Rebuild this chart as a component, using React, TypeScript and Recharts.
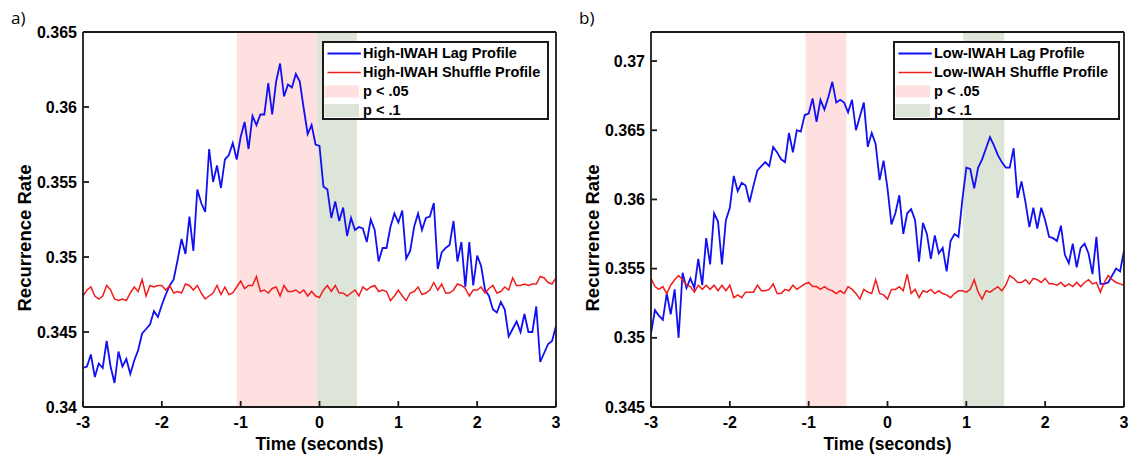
import React from 'react';
import { LineChart, Line, XAxis, YAxis, ReferenceArea, Legend } from 'recharts';

const FONT = '"Liberation Sans", Arial, Helvetica, sans-serif';

// sample grid (seconds)
const TIME_START = -3;
const TIME_STEP = 0.05;
const TIME = Array.from({ length: 121 }, (_, i) => Math.round((TIME_START + i * TIME_STEP) * 100) / 100);

// Panel a) High-IWAH
const HIGH_LAG = [
  0.3426, 0.3427, 0.3435, 0.342, 0.3429, 0.3426, 0.3444, 0.3427, 0.3416, 0.3437,
  0.3427, 0.3432, 0.3422, 0.3431, 0.3438, 0.3449, 0.3452, 0.3455, 0.3464, 0.346,
  0.3468, 0.3475, 0.3481, 0.3485, 0.3498, 0.3512, 0.3502, 0.3527, 0.3504, 0.3545,
  0.3536, 0.353, 0.3572, 0.355, 0.3561, 0.3546, 0.3565, 0.3568, 0.3576, 0.3565,
  0.358, 0.359, 0.3572, 0.3594, 0.3588, 0.3595, 0.3595, 0.3616, 0.3595, 0.3617,
  0.3629, 0.3607, 0.3615, 0.3613, 0.3622, 0.3617, 0.3599, 0.3582, 0.3588, 0.3575,
  0.3574, 0.3547, 0.3545, 0.3526, 0.3537, 0.3524, 0.3533, 0.3514, 0.3526, 0.3518,
  0.352, 0.3519, 0.351, 0.3525, 0.3518, 0.3497, 0.3506, 0.3506, 0.352, 0.3529,
  0.3523, 0.3531, 0.3499, 0.3504, 0.352, 0.3529, 0.3518, 0.3526, 0.3527, 0.3536,
  0.3492, 0.3503, 0.3506, 0.3508, 0.3524, 0.3497, 0.351, 0.348, 0.351, 0.3481,
  0.3501, 0.3494, 0.3478, 0.3474, 0.3465, 0.3463, 0.347, 0.3465, 0.3447, 0.3452,
  0.3457, 0.345, 0.3462, 0.345, 0.345, 0.3467, 0.343, 0.3436, 0.3442, 0.3444,
  0.3454,
];
const HIGH_SHUFFLE = [
  0.3474, 0.3478, 0.348, 0.3474, 0.3472, 0.3474, 0.3481, 0.3478, 0.3472, 0.3471,
  0.3472, 0.3471, 0.3476, 0.348, 0.3477, 0.3485, 0.3474, 0.3481, 0.348, 0.3481,
  0.3481, 0.3478, 0.3481, 0.3476, 0.3477, 0.3476, 0.3482, 0.3481, 0.3478, 0.3481,
  0.3476, 0.3472, 0.3474, 0.3476, 0.3481, 0.3475, 0.348, 0.3475, 0.3476, 0.348,
  0.3484, 0.3479, 0.3481, 0.3481, 0.3487, 0.3477, 0.3478, 0.3476, 0.3479, 0.348,
  0.3474, 0.3481, 0.3477, 0.3477, 0.3478, 0.3476, 0.3478, 0.3474, 0.3477, 0.3474,
  0.3473, 0.3478, 0.3481, 0.3477, 0.3481, 0.3476, 0.3476, 0.3474, 0.3476, 0.3478,
  0.3474, 0.348, 0.3478, 0.348, 0.3481, 0.3477, 0.3478, 0.3477, 0.3471, 0.3474,
  0.3478, 0.3474, 0.3471, 0.3476, 0.3477, 0.348, 0.3475, 0.3476, 0.3478, 0.3483,
  0.3478, 0.3482, 0.3476, 0.3476, 0.3478, 0.3482, 0.3481, 0.3479, 0.3474, 0.3478,
  0.3478, 0.348, 0.3476, 0.3479, 0.3481, 0.3476, 0.3477, 0.348, 0.3478, 0.3486,
  0.3481, 0.3481, 0.3482, 0.3481, 0.3482, 0.3482, 0.3487, 0.3486, 0.3483, 0.3482,
  0.3486,
];

// Panel b) Low-IWAH
const LOW_LAG = [
  0.3503, 0.352, 0.3516, 0.3513, 0.3532, 0.3517, 0.3535, 0.35, 0.3547, 0.3536,
  0.3543, 0.3536, 0.3557, 0.3538, 0.3572, 0.3553, 0.359, 0.3584, 0.3553, 0.3585,
  0.3594, 0.3617, 0.3606, 0.3612, 0.361, 0.3598, 0.361, 0.3621, 0.3624, 0.3627,
  0.3624, 0.3638, 0.3634, 0.3629, 0.3627, 0.3648, 0.3634, 0.365, 0.3649, 0.3661,
  0.3662, 0.3673, 0.3656, 0.3672, 0.3665, 0.3674, 0.3685, 0.367, 0.3672, 0.367,
  0.3663, 0.3672, 0.365, 0.366, 0.367, 0.3638, 0.3648, 0.364, 0.3614, 0.3628,
  0.3608, 0.3582, 0.359, 0.3603, 0.3575, 0.359, 0.3593, 0.3585, 0.3555, 0.3583,
  0.3575, 0.3557, 0.3574, 0.3561, 0.3565, 0.3548, 0.357, 0.3575, 0.3573, 0.36,
  0.3623, 0.3622, 0.3608, 0.3623, 0.3629, 0.3637, 0.3645, 0.3639, 0.3632, 0.3627,
  0.3623, 0.3623, 0.3637, 0.3601, 0.3613, 0.3598, 0.358, 0.3594, 0.3579, 0.3594,
  0.3585, 0.3573, 0.3572, 0.357, 0.3581, 0.356, 0.3554, 0.3568, 0.3551, 0.3565,
  0.3568, 0.3561, 0.3546, 0.3573, 0.3539, 0.3539, 0.354, 0.3545, 0.355, 0.3548,
  0.3563,
];
const LOW_SHUFFLE = [
  0.3543, 0.3537, 0.3535, 0.3537, 0.3532, 0.3538, 0.3542, 0.3545, 0.3542, 0.3538,
  0.3537, 0.3533, 0.3538, 0.3535, 0.3538, 0.3535, 0.3538, 0.3534, 0.3538, 0.3534,
  0.3538, 0.3529, 0.3531, 0.3529, 0.3533, 0.3533, 0.3533, 0.3538, 0.3534, 0.3534,
  0.3535, 0.3539, 0.3532, 0.3532, 0.3535, 0.3534, 0.3538, 0.3535, 0.3537, 0.3539,
  0.354, 0.3537, 0.3537, 0.3535, 0.3537, 0.3535, 0.3534, 0.3532, 0.3534, 0.3532,
  0.3537, 0.3535, 0.3532, 0.3528, 0.3535, 0.3533, 0.3532, 0.3542, 0.3532, 0.3531,
  0.3528, 0.3535, 0.3535, 0.3537, 0.3534, 0.3546, 0.3532, 0.3535, 0.3529, 0.3534,
  0.3533, 0.3535, 0.3532, 0.3534, 0.3532, 0.3531, 0.3529, 0.3532, 0.3534, 0.3534,
  0.3533, 0.3535, 0.3542, 0.3533, 0.3528, 0.3534, 0.3533, 0.3535, 0.3537, 0.3534,
  0.3538, 0.3545, 0.3543, 0.354, 0.354, 0.3542, 0.3539, 0.3543, 0.3542, 0.354,
  0.3543, 0.3539, 0.3539, 0.3538, 0.354, 0.3537, 0.3539, 0.3537, 0.354, 0.3537,
  0.354, 0.3542, 0.3539, 0.354, 0.3533, 0.354, 0.3545, 0.3542, 0.354, 0.3539,
  0.3538,
];

const X_TICKS = [-3, -2, -1, 0, 1, 2, 3];
const X_DOMAIN = [-3, 3];
const Y_TICKS_A = [0.34, 0.345, 0.35, 0.355, 0.36, 0.365];
const Y_DOMAIN_A = [0.34, 0.365];
const Y_TICKS_B = [0.345, 0.35, 0.355, 0.36, 0.365, 0.37];
const Y_DOMAIN_B = [0.345, 0.3721];

// significance windows (seconds)
const SIG05_A = [-1.05, -0.03];
const SIG10_A = [-0.03, 0.475];
const SIG05_B = [-1.04, -0.52];
const SIG10_B = [0.96, 1.48];

const LEGEND_LABELS_A = ['High-IWAH Lag Profile', 'High-IWAH Shuffle Profile', 'p < .05', 'p < .1'];
const LEGEND_LABELS_B = ['Low-IWAH Lag Profile', 'Low-IWAH Shuffle Profile', 'p < .05', 'p < .1'];

const BLUE = '#1010f2';
const RED = '#f21c1c';
const PINK = '#fde0df';
const GREEN = '#dde5d8';
const AXIS = '#1a1a1a';

const fmt = (v: number) => String(parseFloat(v.toFixed(4)));

function LegendBox({ labels }: { labels: string[] }) {
  const swatches = [
    <line key="a" x1={3.5} x2={36.8} y1={9.5} y2={9.5} stroke={BLUE} strokeWidth={1.8} />,
    <line key="b" x1={3.5} x2={36.8} y1={9.5} y2={9.5} stroke={RED} strokeWidth={1.5} />,
    <rect key="c" x={0.5} y={3.5} width={34.5} height={12} fill={PINK} />,
    <rect key="d" x={0.5} y={3} width={34.5} height={13} fill={GREEN} />,
  ];
  return (
    <div
      style={{
        boxSizing: 'border-box',
        width: 227,
        height: 79,
        border: `2px solid ${AXIS}`,
        background: '#fff',
        paddingTop: 1,
        fontFamily: FONT,
      }}
    >
      {labels.map((lab, i) => (
        <div key={lab} style={{ display: 'flex', alignItems: 'center', height: 19 }}>
          <svg width={39} height={19} style={{ flex: '0 0 39px', display: 'block' }}>
            {swatches[i]}
          </svg>
          <span style={{ fontSize: 14.5, fontWeight: 700, color: '#000', whiteSpace: 'nowrap', lineHeight: '19px' }}>
            {lab}
          </span>
        </div>
      ))}
    </div>
  );
}

type PanelProps = {
  left: number;
  letter: string;
  lag: number[];
  shuffle: number[];
  labels: string[];
  yDomain: number[];
  yTicks: number[];
  band05: number[];
  band10: number[];
  legendLeft: number;
};

function Panel(p: PanelProps) {
  const data = TIME.map((t, i) => ({ t, lag: p.lag[i], shuffle: p.shuffle[i] }));
  const tickStyle = { fill: '#000', fontSize: 16, fontWeight: 700, fontFamily: FONT };
  const lineStyle = { stroke: AXIS, strokeWidth: 1.8 };
  return (
    <div style={{ position: 'absolute', left: p.left, top: 0, width: 570, height: 458 }}>
      <LineChart width={570} height={458} data={data} margin={{ top: 31, right: 13, bottom: 0, left: 13 }}>
        <XAxis
          xAxisId="b"
          dataKey="t"
          type="number"
          domain={X_DOMAIN}
          ticks={X_TICKS}
          interval={0}
          allowDataOverflow
          height={51}
          tickSize={-6}
          tickMargin={16}
          tick={tickStyle}
          axisLine={lineStyle}
          tickLine={lineStyle}
          tickFormatter={(v: number) => String(v)}
          label={{
            content: () => (
              <text
                x={319.5}
                y={444}
                textAnchor="middle"
                dominantBaseline="central"
                style={{ fontSize: 17.5, fontWeight: 700, fontFamily: FONT, fill: '#000' }}
              >
                Time (seconds)
              </text>
            ),
          }}
        />
        <XAxis
          xAxisId="t"
          orientation="top"
          dataKey="t"
          type="number"
          domain={X_DOMAIN}
          ticks={X_TICKS}
          interval={0}
          allowDataOverflow
          height={1}
          tickSize={-6}
          tick={false}
          axisLine={lineStyle}
          tickLine={lineStyle}
        />
        <YAxis
          yAxisId="l"
          type="number"
          domain={p.yDomain}
          ticks={p.yTicks}
          interval={0}
          allowDataOverflow
          width={70}
          tickSize={-6}
          tickMargin={12}
          tick={tickStyle}
          axisLine={lineStyle}
          tickLine={lineStyle}
          tickFormatter={fmt}
          label={{
            content: () => (
              <text
                x={24}
                y={238}
                transform="rotate(-90 24 238)"
                textAnchor="middle"
                dominantBaseline="central"
                style={{ fontSize: 18.5, fontWeight: 700, fontFamily: FONT, fill: '#000' }}
              >
                Recurrence Rate
              </text>
            ),
          }}
        />
        <YAxis
          yAxisId="r"
          orientation="right"
          type="number"
          domain={p.yDomain}
          ticks={p.yTicks}
          interval={0}
          allowDataOverflow
          width={1}
          tickSize={-6}
          tick={false}
          axisLine={lineStyle}
          tickLine={lineStyle}
        />
        <ReferenceArea
          xAxisId="b"
          yAxisId="l"
          x1={p.band05[0]}
          x2={p.band05[1]}
          fill={PINK}
          fillOpacity={1}
          stroke="none"
        />
        <ReferenceArea
          xAxisId="b"
          yAxisId="l"
          x1={p.band10[0]}
          x2={p.band10[1]}
          fill={GREEN}
          fillOpacity={1}
          stroke="none"
        />
        <Line
          xAxisId="b"
          yAxisId="l"
          type="linear"
          dataKey="lag"
          stroke={BLUE}
          strokeWidth={1.8}
          dot={false}
          activeDot={false}
          isAnimationActive={false}
        />
        <Line
          xAxisId="t"
          yAxisId="r"
          type="linear"
          dataKey="shuffle"
          stroke={RED}
          strokeWidth={1.5}
          dot={false}
          activeDot={false}
          isAnimationActive={false}
        />
        <Legend
          layout="horizontal"
          verticalAlign="middle"
          align="center"
          wrapperStyle={{ left: p.legendLeft, top: 41, width: 227, height: 79 }}
          content={() => <LegendBox labels={p.labels} />}
        />
      </LineChart>
      <div
        style={{
          position: 'absolute',
          left: 11,
          top: 9,
          fontSize: 17,
          lineHeight: '17px',
          fontFamily: '"Open Sans", "Liberation Sans", Arial, sans-serif',
          color: '#000',
        }}
      >
        {p.letter}
      </div>
    </div>
  );
}

export default function App() {
  return (
    <div style={{ position: 'absolute', left: 0, top: 0, width: 1141, height: 458, background: '#fff', overflow: 'hidden' }}>
      <Panel
        left={0}
        letter="a)"
        lag={HIGH_LAG}
        shuffle={HIGH_SHUFFLE}
        labels={LEGEND_LABELS_A}
        yDomain={Y_DOMAIN_A}
        yTicks={Y_TICKS_A}
        band05={SIG05_A}
        band10={SIG10_A}
        legendLeft={322}
      />
      <Panel
        left={568}
        letter="b)"
        lag={LOW_LAG}
        shuffle={LOW_SHUFFLE}
        labels={LEGEND_LABELS_B}
        yDomain={Y_DOMAIN_B}
        yTicks={Y_TICKS_B}
        band05={SIG05_B}
        band10={SIG10_B}
        legendLeft={325}
      />
    </div>
  );
}
